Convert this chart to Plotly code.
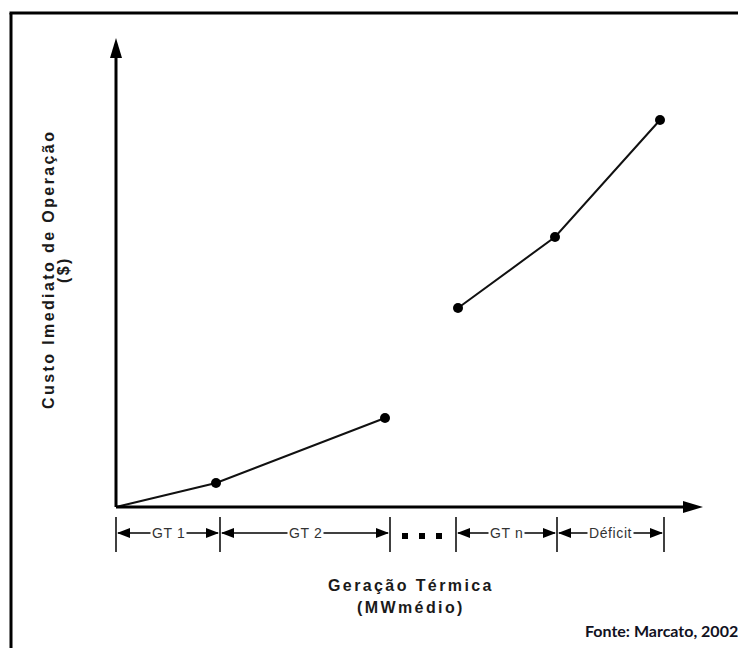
import plotly.graph_objects as go

# ---- data ----
seg1_x = [0, 100, 269]
seg1_y = [0, 24, 89]
seg2_x = [342, 439, 544]
seg2_y = [199, 270, 387]
bounds = [0, 104, 274, 340, 441, 548]
labels = ["GT 1", "GT 2", "", "GT n", "Déficit"]
dots_x = [289, 306, 323]

# axis extents (arrow tips)
x_tip = 587
y_tip = 469

fig = go.Figure()

fig.add_trace(go.Scatter(x=seg1_x, y=seg1_y, mode="lines", line=dict(color="#111", width=2), hoverinfo="skip"))
fig.add_trace(go.Scatter(x=seg1_x[1:], y=seg1_y[1:], mode="markers", marker=dict(color="#000", size=10), hoverinfo="skip"))
fig.add_trace(go.Scatter(x=seg2_x, y=seg2_y, mode="lines+markers", line=dict(color="#111", width=2),
                         marker=dict(color="#000", size=10), hoverinfo="skip"))

shapes = []
shapes.append(dict(type="line", x0=0, y0=0, x1=0, y1=y_tip - 15, line=dict(color="#000", width=3)))
shapes.append(dict(type="line", x0=0, y0=0, x1=x_tip - 15, y1=0, line=dict(color="#000", width=3)))
shapes.append(dict(type="path", path=f"M -6 {y_tip-20} L 0 {y_tip} L 6 {y_tip-20} Z", fillcolor="#000", line=dict(width=0)))
shapes.append(dict(type="path", path=f"M {x_tip-20} -6 L {x_tip} 0 L {x_tip-20} 6 Z", fillcolor="#000", line=dict(width=0)))

# frame (left and top edges)
shapes.append(dict(type="line", x0=-105, y0=-160, x1=-105, y1=494, line=dict(color="#000", width=3)))
shapes.append(dict(type="line", x0=-106.5, y0=494, x1=650, y1=494, line=dict(color="#000", width=3)))

ry = -26
for b in bounds:
    shapes.append(dict(type="line", x0=b, y0=-10, x1=b, y1=-45, line=dict(color="#000", width=1.5)))

annotations = []
hl, hw = 13, 5
for i, lab in enumerate(labels):
    if lab == "":
        continue
    a, b = bounds[i], bounds[i + 1]
    shapes.append(dict(type="line", x0=a + 2, y0=ry, x1=b - 2, y1=ry, line=dict(color="#000", width=1.3)))
    shapes.append(dict(type="path", path=f"M {a+1} {ry} L {a+1+hl} {ry+hw} L {a+1+hl} {ry-hw} Z",
                       fillcolor="#000", line=dict(width=0)))
    shapes.append(dict(type="path", path=f"M {b-1} {ry} L {b-1-hl} {ry+hw} L {b-1-hl} {ry-hw} Z",
                       fillcolor="#000", line=dict(width=0)))
    annotations.append(dict(x=(a + b) / 2, y=ry, text=f'<span style="letter-spacing:0.6px">{lab}</span>',
                            showarrow=False, bgcolor="white", borderpad=1,
                            font=dict(family="Liberation Sans", size=14, color="#333")))

fig.add_trace(go.Scatter(x=dots_x, y=[-29] * len(dots_x), mode="markers",
                         marker=dict(symbol="square", color="#000", size=6), hoverinfo="skip"))

sp = '<span style="letter-spacing:2.4px">'
lab_font = dict(family="Liberation Sans", size=16, color="#1a1a1a")
annotations.append(dict(x=-68, y=237, text=f"<b>{sp}Custo Imediato de Operação</span></b>", textangle=-90,
                        showarrow=False, font=lab_font))
annotations.append(dict(x=-53, y=237, text=f"<b>{sp}($)</span></b>", textangle=-90,
                        showarrow=False, font=lab_font))
annotations.append(dict(x=295, y=-78, text=f"<b>{sp}Geração Térmica</span></b>",
                        showarrow=False, font=lab_font))
annotations.append(dict(x=295, y=-100, text=f"<b>{sp}(MWmédio)</span></b>",
                        showarrow=False, font=lab_font))
annotations.append(dict(x=624, y=-123, text="<b>Fonte: Marcato, 2002</b>", xanchor="right",
                        showarrow=False, font=dict(family="Lato", size=16, color="#111122")))

fig.update_layout(
    width=738, height=640,
    margin=dict(l=0, r=0, t=0, b=0),
    paper_bgcolor="white", plot_bgcolor="white",
    showlegend=False,
    shapes=shapes, annotations=annotations,
    xaxis=dict(range=[-108, 630], visible=False, fixedrange=True),
    yaxis=dict(range=[-141, 499], visible=False, fixedrange=True),
)

fig.write_html("out.html")
